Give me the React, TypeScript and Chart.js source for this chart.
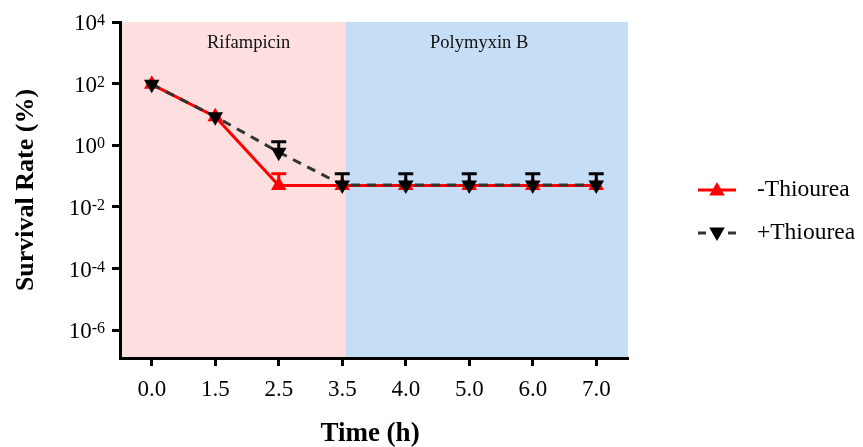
import React, { useEffect, useRef } from "react";
import { Chart, registerables } from "chart.js";

Chart.register(...registerables);

const timeLabels = ["0.0", "1.5", "2.5", "3.5", "4.0", "5.0", "6.0", "7.0"];
const minusThiourea = [95, 8.5, 0.05, 0.05, 0.05, 0.05, 0.05, 0.05];
const minusThioureaErr = [0, 0, 0.07, 0, 0, 0, 0, 0];
const plusThiourea = [95, 8.5, 0.6, 0.052, 0.052, 0.052, 0.052, 0.052];
const plusThioureaErr = [0, 0, 0.7, 0.068, 0.068, 0.068, 0.068, 0.068];
const yTickExponents = [4, 2, 0, -2, -4, -6];
const phaseLabels = ["Rifampicin", "Polymyxin B"];
const seriesNames = ["-Thiourea", "+Thiourea"];

const SERIF = "'Liberation Serif', 'Times New Roman', serif";
const RED = "#ff0000";
const DARK = "#333333";

function tri(ctx: CanvasRenderingContext2D, x: number, y: number, r: number, down: boolean, color: string) {
  const s = down ? -1 : 1;
  ctx.save();
  ctx.fillStyle = color;
  ctx.beginPath();
  ctx.moveTo(x, y - s * r);
  ctx.lineTo(x + r * 0.866, y + s * r * 0.5);
  ctx.lineTo(x - r * 0.866, y + s * r * 0.5);
  ctx.closePath();
  ctx.fill();
  ctx.restore();
}

const decorPlugin = {
  id: "decor",
  beforeDraw(chart: any) {
    const { ctx, chartArea, scales } = chart;
    const xs = scales.x;
    const boundary = xs.getPixelForValue(3) + 3;
    ctx.save();
    ctx.fillStyle = "#fddfe0";
    ctx.fillRect(chartArea.left, chartArea.top, boundary - chartArea.left, chartArea.bottom - chartArea.top);
    ctx.fillStyle = "#c6ddf6";
    ctx.fillRect(boundary, chartArea.top, chartArea.right - boundary, chartArea.bottom - chartArea.top);
    // phase labels
    ctx.fillStyle = "#111";
    ctx.font = `18.5px ${SERIF}`;
    ctx.textAlign = "center";
    ctx.textBaseline = "middle";
    const w = chartArea.right - chartArea.left;
    ctx.fillText(phaseLabels[0], chartArea.left + w * 0.253, chartArea.top + 21);
    ctx.fillText(phaseLabels[1], chartArea.left + w * 0.707, chartArea.top + 21);
    ctx.restore();
  },
  afterDatasetsDraw(chart: any) {
    const { ctx, scales } = chart;
    const ys = scales.y;
    const xs = scales.x;
    const draw = (vals: number[], errs: number[], color: string) => {
      ctx.save();
      ctx.strokeStyle = color;
      ctx.lineWidth = 3;
      vals.forEach((v, i) => {
        if (!errs[i]) return;
        const x = xs.getPixelForValue(i);
        const y0 = ys.getPixelForValue(v);
        const y1 = ys.getPixelForValue(v + errs[i]);
        ctx.beginPath();
        ctx.moveTo(x, y0);
        ctx.lineTo(x, y1);
        ctx.moveTo(x - 7.5, y1);
        ctx.lineTo(x + 7.5, y1);
        ctx.stroke();
      });
      ctx.restore();
    };
    draw(minusThiourea, minusThioureaErr, RED);
    draw(plusThiourea, plusThioureaErr, "#000");
  },
  afterDraw(chart: any) {
    const { ctx, chartArea, scales } = chart;
    const ys = scales.y;
    ctx.save();
    ctx.fillStyle = "#000";
    // y tick labels with superscripts
    yTickExponents.forEach((e) => {
      const y = ys.getPixelForValue(Math.pow(10, e));
      const right = 105;
      const expText = e < 0 ? "-" + Math.abs(e) : String(e);
      ctx.font = `16px ${SERIF}`;
      ctx.textAlign = "right";
      ctx.textBaseline = "alphabetic";
      const ew = ctx.measureText(expText).width;
      ctx.fillText(expText, right, y + 3);
      ctx.font = `23px ${SERIF}`;
      ctx.fillText("10", right - ew, y + 8);
    });
    // axis titles
    ctx.textAlign = "center";
    ctx.textBaseline = "middle";
    ctx.font = `bold 27px ${SERIF}`;
    ctx.fillText("Time (h)", (chartArea.left + chartArea.right) / 2 - 4, 434);
    ctx.save();
    ctx.font = `bold 26px ${SERIF}`;
    ctx.translate(26, (chartArea.top + chartArea.bottom) / 2);
    ctx.rotate(-Math.PI / 2);
    ctx.fillText("Survival Rate (%)", 0, 0);
    ctx.restore();
    // legend
    const lx0 = 698, lx1 = 736, textX = 757;
    const ly = [190, 233];
    ctx.lineWidth = 3;
    ctx.strokeStyle = RED;
    ctx.beginPath();
    ctx.moveTo(lx0, ly[0]);
    ctx.lineTo(lx1, ly[0]);
    ctx.stroke();
    tri(ctx, (lx0 + lx1) / 2, ly[0] + 1, 9, false, RED);
    ctx.strokeStyle = DARK;
    ctx.setLineDash([8, 7]);
    ctx.beginPath();
    ctx.moveTo(lx0, ly[1]);
    ctx.lineTo(lx1, ly[1]);
    ctx.stroke();
    ctx.setLineDash([]);
    tri(ctx, (lx0 + lx1) / 2, ly[1] - 1, 9, true, "#000");
    ctx.fillStyle = "#000";
    ctx.font = `23.5px ${SERIF}`;
    ctx.textAlign = "left";
    ctx.textBaseline = "middle";
    ctx.fillText(seriesNames[0], textX, ly[0]);
    ctx.fillText(seriesNames[1], textX, ly[1]);
    ctx.restore();
  },
};

export default function App() {
  const ref = useRef<HTMLCanvasElement | null>(null);
  useEffect(() => {
    if (!ref.current) return;
    Chart.defaults.font.family = SERIF;
    const chart = new Chart(ref.current, {
      type: "line",
      data: {
        labels: timeLabels,
        datasets: [
          {
            label: seriesNames[0],
            data: minusThiourea,
            borderColor: RED,
            backgroundColor: RED,
            borderWidth: 3,
            pointStyle: "triangle",
            pointRadius: 9,
            pointBorderWidth: 0,
            pointBackgroundColor: RED,
            pointBorderColor: RED,
            order: 2,
          },
          {
            label: seriesNames[1],
            data: plusThiourea,
            borderColor: DARK,
            backgroundColor: "#000",
            borderWidth: 3,
            borderDash: [9, 7],
            pointStyle: "triangle",
            pointRotation: 180,
            pointRadius: 9,
            pointBorderWidth: 0,
            pointBackgroundColor: "#000",
            pointBorderColor: "#000",
            order: 1,
          },
        ],
      },
      options: {
        animation: false,
        responsive: false,
        maintainAspectRatio: false,
        layout: { padding: { top: 22, right: 235, bottom: 0, left: 0 } },
        plugins: { legend: { display: false }, tooltip: { enabled: false } },
        scales: {
          x: {
            type: "category",
            offset: true,
            grid: {
              display: true,
              drawOnChartArea: false,
              drawTicks: true,
              tickLength: 8,
              tickWidth: 3,
              tickColor: "#000",
            },
            border: { display: true, width: 3, color: "#000" },
            ticks: { color: "#000", font: { size: 23, family: SERIF }, padding: 10 },
            afterFit: (s: any) => {
              s.height = 89;
            },
          },
          y: {
            type: "logarithmic",
            min: Math.pow(10, -6.9),
            max: 1e4,
            grid: {
              display: true,
              drawOnChartArea: false,
              drawTicks: true,
              tickLength: 8,
              tickWidth: 3,
              tickColor: "#000",
            },
            border: { display: true, width: 3, color: "#000" },
            ticks: { callback: () => "", color: "rgba(0,0,0,0)" },
            afterBuildTicks: (s: any) => {
              s.ticks = yTickExponents.map((e) => ({ value: Math.pow(10, e) }));
            },
            afterFit: (s: any) => {
              s.width = 120;
            },
          },
        },
      },
      plugins: [decorPlugin],
    } as any);
    return () => chart.destroy();
  }, []);
  return (
    <div style={{ position: "fixed", left: 0, top: 0, width: 863, height: 447, background: "#fff" }}>
      <canvas ref={ref} width={863} height={447} style={{ width: 863, height: 447 }} />
    </div>
  );
}
